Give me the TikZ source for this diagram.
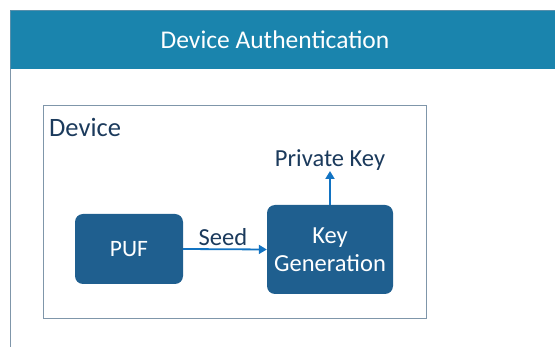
\documentclass[tikz,border=0pt]{standalone}
\usepackage{fontspec}
\setmainfont{Carlito}
\usetikzlibrary{arrows.meta}
\definecolor{headerbg}{HTML}{1A84AD}
\definecolor{boxfill}{HTML}{1F5F8F}
\definecolor{arrowc}{HTML}{1273C2}
\definecolor{labelc}{HTML}{1B3A5C}
\definecolor{framec}{HTML}{7F96AA}
\tikzset{
  blockbox/.style={fill=boxfill, draw=none, rounded corners=8pt, text=white, align=center, inner sep=0pt, font=\fontsize{23.5}{28}\selectfont},
  lbl/.style={text=labelc, inner sep=0pt, font=\fontsize{24.5}{28}\selectfont},
  conn/.style={draw=arrowc, line width=1.8pt, -{Triangle[width=9pt,length=8pt]}}
}
\begin{document}
\begin{tikzpicture}[x=1pt,y=-1pt]
\useasboundingbox (0,0) rectangle (555,347);
% outer frame
\draw[framec, line width=1pt] (10,69) -- (10,347);
\fill[headerbg] (10,10) rectangle (555,69);
\draw[framec!60!headerbg, line width=0.8pt] (10,69) -- (10,10) -- (555,10);
\node[text=white, font=\fontsize{25.5}{30}\selectfont, inner sep=0pt] (title) at (275,40) {Device Authentication};
% device box
\draw[framec, line width=1pt] (43,106) rectangle (426,319);
\node[lbl, anchor=base west, font=\fontsize{26.5}{30}\selectfont] (devlbl) at (49,137) {Device};
% blocks
\node[blockbox, minimum width=108pt, minimum height=70pt] (puf) at (129,249) {PUF};
\node[blockbox, minimum width=126pt, minimum height=89pt, font=\fontsize{24.5}{28}\selectfont] (kg) at (330,249.5) {Key\\Generation};
\draw[conn] (puf.east) -- (kg.west);
\node[lbl] (seed) at (223,237) {Seed};
\coordinate (pk) at (330,171);
\draw[conn] (kg.north) -- (pk);
\node[lbl] (pklbl) at (330,160) {Private Key};
\end{tikzpicture}
\end{document}
